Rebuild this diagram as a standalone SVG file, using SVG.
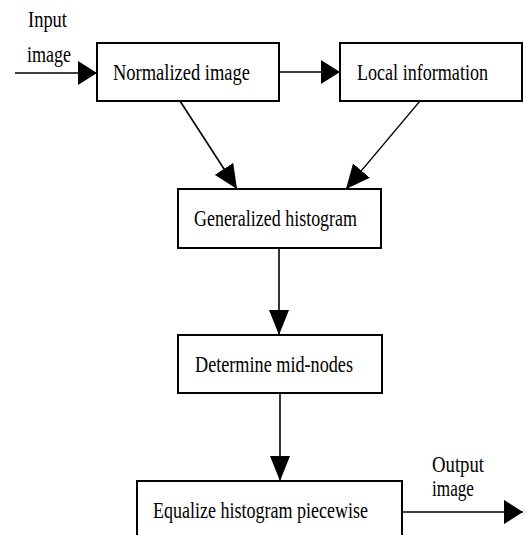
<svg xmlns="http://www.w3.org/2000/svg" width="526" height="535" viewBox="0 0 526 535">
  <style>
    .box { fill: #ffffff; stroke: #000000; stroke-width: 2; }
    .lbl { font-family: "Liberation Serif", "DejaVu Serif", "Times New Roman", serif; font-size: 23px; fill: #000000; }
    .wire { stroke: #000000; stroke-width: 1.6; fill: none; }
    .h { marker-end: url(#headH); }
    .v { marker-end: url(#headV); }
    .d { marker-end: url(#headD); }
    .thin { stroke-width: 1.2; }
  </style>
  <defs>
    <!-- heads drawn in user space: horizontal ones short and tall, vertical ones long and narrow -->
    <marker id="headH" markerUnits="userSpaceOnUse" markerWidth="19" markerHeight="24" refX="19" refY="12" orient="auto">
      <path d="M0,0 L19,12 L0,24 Z" fill="#000000"/>
    </marker>
    <marker id="headV" markerUnits="userSpaceOnUse" markerWidth="25" markerHeight="20" refX="25" refY="10" orient="auto">
      <path d="M0,0 L25,10 L0,20 Z" fill="#000000"/>
    </marker>
    <marker id="headD" markerUnits="userSpaceOnUse" markerWidth="24" markerHeight="22" refX="24" refY="11" orient="auto">
      <path d="M0,0 L24,11 L0,22 Z" fill="#000000"/>
    </marker>
  </defs>
  <rect x="0" y="0" width="526" height="535" fill="#ffffff"/>

  <g id="connectors">
    <line class="wire h" x1="15" y1="73" x2="97" y2="73"/>
    <line class="wire h" x1="279" y1="72" x2="340" y2="72"/>
    <line class="wire d" x1="180" y1="101" x2="237" y2="189"/>
    <line class="wire d thin" x1="420" y1="101" x2="346" y2="189"/>
    <line class="wire v" x1="279" y1="248" x2="279" y2="335"/>
    <line class="wire v" x1="280" y1="393" x2="280" y2="481"/>
    <line class="wire h" x1="402" y1="512" x2="523" y2="512"/>
  </g>

  <g id="input-label">
    <text class="lbl" x="28" y="27" textLength="39" lengthAdjust="spacingAndGlyphs">Input</text>
    <text class="lbl" x="27" y="62" textLength="44" lengthAdjust="spacingAndGlyphs">image</text>
  </g>

  <g id="normalized">
    <rect class="box" x="97" y="43" width="182" height="58"/>
    <text class="lbl" x="113" y="80" textLength="137" lengthAdjust="spacingAndGlyphs">Normalized image</text>
  </g>

  <g id="local">
    <rect class="box" x="340" y="43" width="182" height="58"/>
    <text class="lbl" x="357" y="80" textLength="131" lengthAdjust="spacingAndGlyphs">Local information</text>
  </g>

  <g id="histogram">
    <rect class="box" x="178" y="189" width="203" height="59"/>
    <text class="lbl" x="194" y="226" textLength="163" lengthAdjust="spacingAndGlyphs">Generalized histogram</text>
  </g>

  <g id="midnodes">
    <rect class="box" x="178" y="335" width="204" height="58"/>
    <text class="lbl" x="195" y="372" textLength="158" lengthAdjust="spacingAndGlyphs">Determine mid-nodes</text>
  </g>

  <g id="equalize">
    <rect class="box" x="137" y="481" width="265" height="64"/>
    <text class="lbl" x="153" y="518" textLength="215" lengthAdjust="spacingAndGlyphs">Equalize histogram piecewise</text>
  </g>

  <g id="output-label">
    <text class="lbl" x="432" y="472" textLength="52" lengthAdjust="spacingAndGlyphs">Output</text>
    <text class="lbl" x="432" y="496" textLength="42" lengthAdjust="spacingAndGlyphs">image</text>
  </g>
</svg>
